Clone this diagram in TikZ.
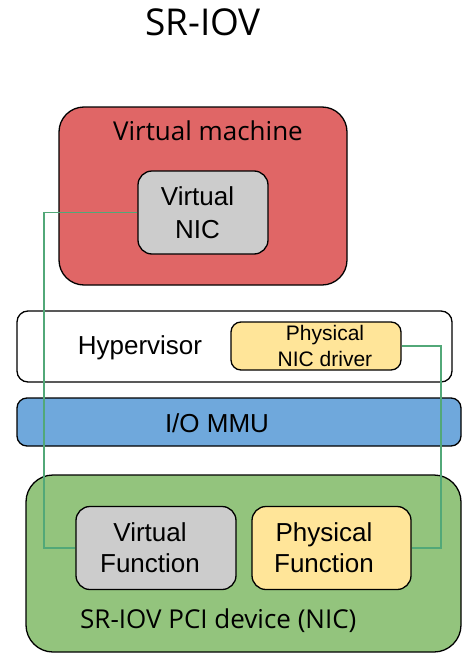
\documentclass[tikz,border=0pt]{standalone}
\usepackage{fontspec}
\setmainfont{Liberation Sans}
\newfontfamily\osans{Open Sans}
\definecolor{vmred}{HTML}{E06666}
\definecolor{nicgray}{HTML}{CCCCCC}
\definecolor{drvyellow}{HTML}{FFE599}
\definecolor{mmublue}{HTML}{6FA8DC}
\definecolor{pcigreen}{HTML}{93C47D}
\definecolor{wire}{RGB}{82,168,120}
\begin{document}
\begin{tikzpicture}[x=1pt,y=-1pt,
  box/.style={draw=black,line width=1.3pt,rectangle,inner sep=0pt},
  lbl/.style={inner sep=0pt,text=black,align=center},
  wireline/.style={draw=wire,line width=1.3pt}]
\useasboundingbox[fill=white] (0,0) rectangle (466,653);
\node[lbl,font=\osans\fontsize{37}{42}\selectfont] (title) at (203,22) {SR-IOV};
% Virtual machine
\node[box,fill=vmred,rounded corners=25pt,minimum width=288pt,minimum height=178pt] (vm) at (203,196) {};
\node[lbl,font=\osans\fontsize{26}{30}\selectfont] (vmlbl) at (208,131) {Virtual machine};
\node[box,fill=nicgray,rounded corners=14pt,minimum width=130pt,minimum height=83pt] (vnic) at (203,212.5) {};
\node[lbl,font=\fontsize{26}{33}\selectfont] (vnictxt) at (197.5,212.5) {Virtual\\NIC};
% Hypervisor
\node[box,fill=white,rounded corners=11pt,minimum width=435pt,minimum height=71pt] (hyp) at (234.5,346.5) {};
\node[lbl,font=\fontsize{26}{30}\selectfont] (hyplbl) at (140,348) {Hypervisor};
\node[box,fill=drvyellow,rounded corners=10pt,minimum width=170pt,minimum height=48pt] (drv) at (316,346) {};
\node[lbl,font=\fontsize{21}{26}\selectfont] (drvtxt) at (325,346) {Physical\\NIC driver};
% IOMMU
\node[box,fill=mmublue,rounded corners=10pt,minimum width=444pt,minimum height=48pt] (mmu) at (239,422) {};
\node[lbl,font=\fontsize{26}{30}\selectfont] (mmulbl) at (217,423) {I/O MMU};
% SR-IOV device
\node[box,fill=pcigreen,rounded corners=27pt,minimum width=435pt,minimum height=177pt] (pci) at (243.5,563.5) {};
\node[box,fill=nicgray,rounded corners=14pt,minimum width=160pt,minimum height=83pt] (vf) at (156,548) {};
\node[lbl,font=\fontsize{26}{31}\selectfont] (vftxt) at (150,548) {Virtual\\Function};
\node[box,fill=drvyellow,rounded corners=14pt,minimum width=159pt,minimum height=83pt] (pf) at (331.5,548) {};
\node[lbl,font=\fontsize{26}{31}\selectfont] (pftxt) at (324,548) {Physical\\Function};
\node[lbl,anchor=west,font=\osans\fontsize{26}{30}\selectfont] (pcilbl) at (80,621) {SR-IOV PCI device (NIC)};
% wires
\coordinate (lc) at (44,0);
\coordinate (rc) at (441,0);
\draw[wireline] (vnic.west) -- (vnic.west -| lc) |- (vf.west);
\draw[wireline] (drv.east) -- (drv.east -| rc) |- (pf.east);
\end{tikzpicture}
\end{document}
